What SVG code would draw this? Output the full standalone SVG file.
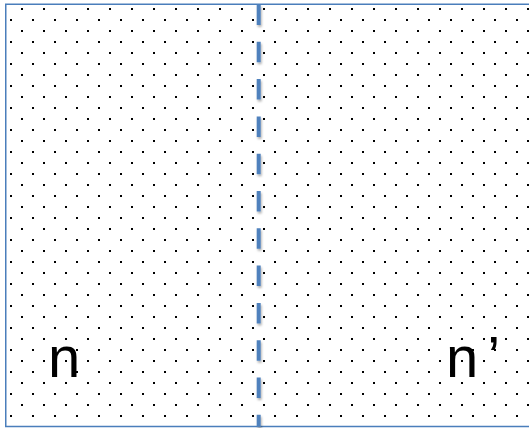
<svg xmlns="http://www.w3.org/2000/svg" width="529" height="428" viewBox="0 0 529 428">
  <defs>
    <!-- staggered dot fill: 22px columns, 11px rows, every other row shifted by half a column -->
    <pattern id="dots" patternUnits="userSpaceOnUse" x="-5" y="0" width="22" height="22">
      <rect x="4" y="8" width="2" height="2" fill="#000"/>
      <rect x="15" y="19" width="2" height="2" fill="#000"/>
    </pattern>
    <filter id="shade" filterUnits="userSpaceOnUse" x="240" y="0" width="40" height="428">
      <feDropShadow dx="1" dy="2" stdDeviation="1.2" flood-color="#000" flood-opacity="0.3"/>
    </filter>
  </defs>
  <style>
    .frame { fill: url(#dots); stroke: #4a7ebb; stroke-width: 1.5; }
    .divider { stroke: #4f81bd; stroke-width: 4; stroke-dasharray: 20.5 16.8; fill: none; }
    .label { font-family: "Liberation Sans", Arial, sans-serif; font-size: 58px; fill: #000; }
  </style>

  <rect x="0" y="0" width="529" height="428" fill="#fff"/>

  <!-- dotted region, open on the right -->
  <g id="region">
    <path class="frame" d="M531,4.25 H5.75 V426.5 H531"/>
  </g>

  <g id="connectors">
    <line class="divider" x1="258.7" y1="4.5" x2="258.7" y2="427" filter="url(#shade)"/>
  </g>

  <g id="node-n">
    <text class="label" x="48" y="377">n</text>
  </g>
  <g id="node-n-prime">
    <text class="label" x="446" y="377">n<tspan dx="9">’</tspan></text>
  </g>
</svg>
